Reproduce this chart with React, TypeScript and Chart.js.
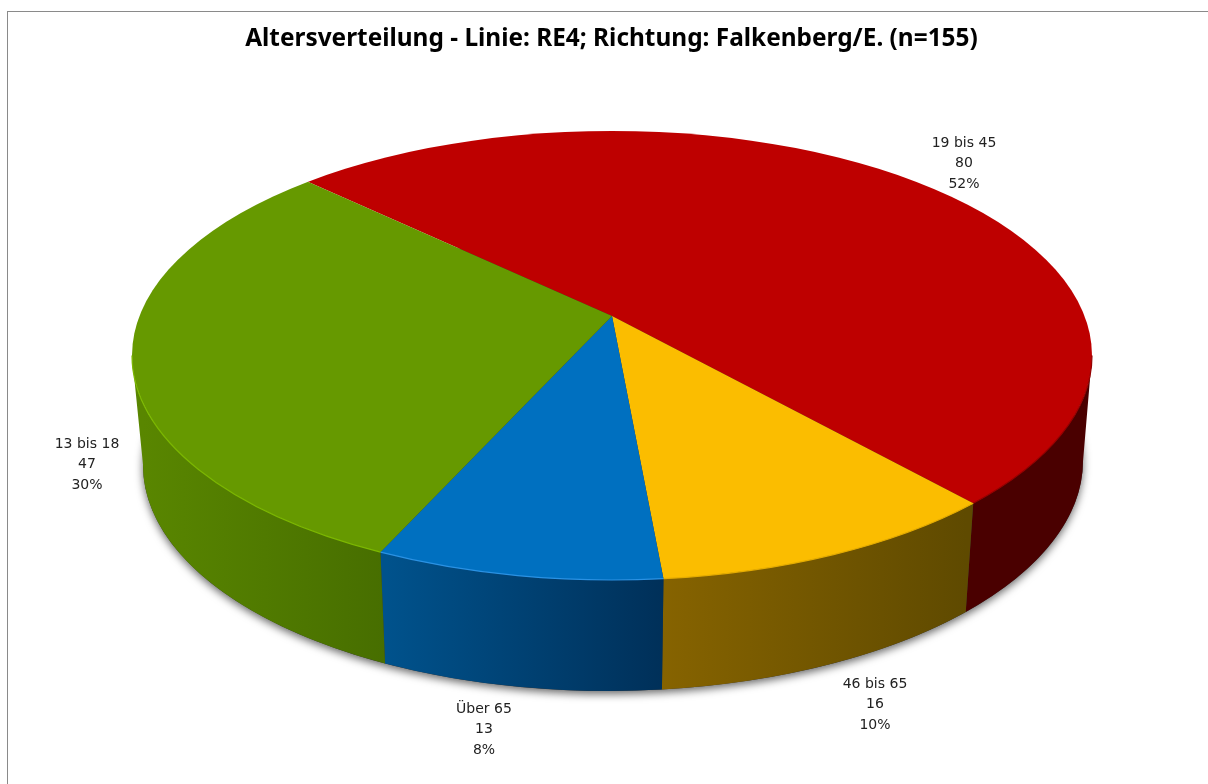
import React, { useEffect, useRef } from "react";
import { Chart, registerables } from "chart.js";

Chart.register(...registerables);

const titleText = "Altersverteilung - Linie: RE4; Richtung: Falkenberg/E. (n=155)";
const categories = ["19 bis 45", "46 bis 65", "Über 65", "13 bis 18"];
const counts = [80, 16, 13, 47];
const percents = ["52%", "10%", "8%", "30%"];

const topColors = ["#BE0000", "#FBBD00", "#0070C0", "#669900"];
const wallLeft = ["#4A0000", "#866300", "#00528C", "#598600"];
const wallRight = ["#4A0000", "#5F4A00", "#003059", "#476E00"];
const edgeColors = ["#960000", "#E5AC00", "#2A92E4", "#7CB800"];

const labelCentres = [
  [964, 163.5],
  [875, 704.5],
  [484, 729.5],
  [87, 464.5],
];

const TOP = { cx: 612, cy: 355.5, rx: 480, ry: 224.5, tilt: 0 };
const BOTTOM = { cx: 613, cy: 463, rx: 470, ry: 228, tilt: -0.006 };
const APEX = { x: 612, y: 316 };
const SPREAD = { x: 650, y: 305.5 };
const SEAM_LEAN = 0.006;

function rayParam(theta: number) {
  const dx = Math.cos(theta) * SPREAD.x;
  const dy = Math.sin(theta) * SPREAD.y;
  const ox = (APEX.x - TOP.cx) / TOP.rx;
  const oy = (APEX.y - TOP.cy) / TOP.ry;
  const vx = dx / TOP.rx;
  const vy = dy / TOP.ry;
  const a = vx * vx + vy * vy;
  const b = 2 * (ox * vx + oy * vy);
  const c = ox * ox + oy * oy - 1;
  const s = (-b + Math.sqrt(b * b - 4 * a * c)) / (2 * a);
  return Math.atan2(oy + vy * s, ox + vx * s);
}

function frontRange(startAngle: number, endAngle: number): [number, number] | null {
  const T = Math.PI * 2;
  let a = rayParam(startAngle);
  let b = rayParam(endAngle);
  while (a < 0) a += T;
  while (b <= a) b += T;
  for (const [lo, hi] of [
    [0, Math.PI],
    [T, T + Math.PI],
  ]) {
    const s = Math.max(a, lo);
    const e = Math.min(b, hi);
    if (e > s) return [s, e];
  }
  return null;
}

const pie3d = {
  id: "pie3d",
  beforeDraw(chart: any) {
    const { ctx } = chart;
    ctx.save();
    ctx.strokeStyle = "#8A8A8A";
    ctx.lineWidth = 1;
    ctx.strokeRect(7.5, 11.5, 1400, 1000);
    ctx.restore();
  },
  beforeDatasetsDraw(chart: any) {
    const { ctx } = chart;
    const arcs = chart.getDatasetMeta(0).data;

    ctx.save();
    ctx.shadowColor = "rgba(0,0,0,0.6)";
    ctx.shadowBlur = 8;
    ctx.shadowOffsetY = 3;
    ctx.fillStyle = "#333";
    ctx.beginPath();
    ctx.ellipse(BOTTOM.cx, BOTTOM.cy, BOTTOM.rx, BOTTOM.ry, BOTTOM.tilt, 0, Math.PI * 2);
    ctx.fill();
    ctx.restore();

    arcs.forEach((arc: any, i: number) => {
      const r = frontRange(arc.startAngle, arc.endAngle);
      if (!r) return;
      const [a, b] = r;
      const xa = BOTTOM.cx + BOTTOM.rx * Math.cos(a);
      const xb = BOTTOM.cx + BOTTOM.rx * Math.cos(b);
      const grad = ctx.createLinearGradient(Math.min(xa, xb), 0, Math.max(xa, xb), 0);
      grad.addColorStop(0, wallLeft[i]);
      grad.addColorStop(1, wallRight[i]);
      ctx.fillStyle = grad;
      ctx.beginPath();
      ctx.ellipse(TOP.cx, TOP.cy, TOP.rx, TOP.ry, TOP.tilt, a, b);
      ctx.ellipse(BOTTOM.cx, BOTTOM.cy, BOTTOM.rx, BOTTOM.ry, BOTTOM.tilt, b + SEAM_LEAN, a + SEAM_LEAN, true);
      ctx.closePath();
      ctx.fill();
    });

    const arc0 = arcs[0];
    const R = arc0.outerRadius;
    ctx.save();
    ctx.beginPath();
    ctx.ellipse(TOP.cx, TOP.cy, TOP.rx, TOP.ry, TOP.tilt, 0, Math.PI * 2);
    ctx.clip();
    ctx.translate(APEX.x, APEX.y);
    ctx.scale(SPREAD.x / R, SPREAD.y / R);
    ctx.translate(-arc0.x, -arc0.y);
  },
  afterDatasetsDraw(chart: any) {
    const { ctx } = chart;
    ctx.restore();
    const arcs = chart.getDatasetMeta(0).data;
    arcs.forEach((arc: any, i: number) => {
      const r = frontRange(arc.startAngle, arc.endAngle);
      if (!r) return;
      ctx.strokeStyle = edgeColors[i];
      ctx.lineWidth = 1.2;
      ctx.beginPath();
      ctx.ellipse(TOP.cx, TOP.cy, TOP.rx, TOP.ry, TOP.tilt, r[0], r[1]);
      ctx.stroke();
    });

    ctx.save();
    ctx.fillStyle = "#222";
    ctx.font = '14px "DejaVu Sans"';
    ctx.textAlign = "center";
    ctx.textBaseline = "middle";
    categories.forEach((c, i) => {
      const [x, y] = labelCentres[i];
      ctx.fillText(c, x, y - 20.5);
      ctx.fillText(String(counts[i]), x, y);
      ctx.fillText(percents[i], x, y + 20.5);
    });
    ctx.restore();
  },
};

export default function App() {
  const ref = useRef<HTMLCanvasElement>(null);
  useEffect(() => {
    document.body.style.margin = "0";
    document.body.style.overflow = "hidden";
    document.body.style.background = "#fff";
    const chart = new Chart(ref.current!, {
      type: "pie",
      data: {
        labels: categories,
        datasets: [
          {
            data: counts,
            backgroundColor: topColors,
            borderWidth: 0,
            clip: false,
          } as any,
        ],
      },
      options: {
        responsive: false,
        animation: false,
        devicePixelRatio: 1,
        events: [],
        rotation: -46.8,
        plugins: {
          legend: { display: false },
          tooltip: { enabled: false },
          title: {
            display: true,
            text: titleText,
            color: "#000",
            font: { family: '"Noto Sans"', size: 24.4, weight: "bold" },
            padding: { top: 24.5, bottom: 10 },
          },
        },
      },
      plugins: [pie3d],
    } as any);
    return () => chart.destroy();
  }, []);
  return <canvas ref={ref} width={1223} height={784} style={{ position: "absolute", left: 0, top: 0 }} />;
}
